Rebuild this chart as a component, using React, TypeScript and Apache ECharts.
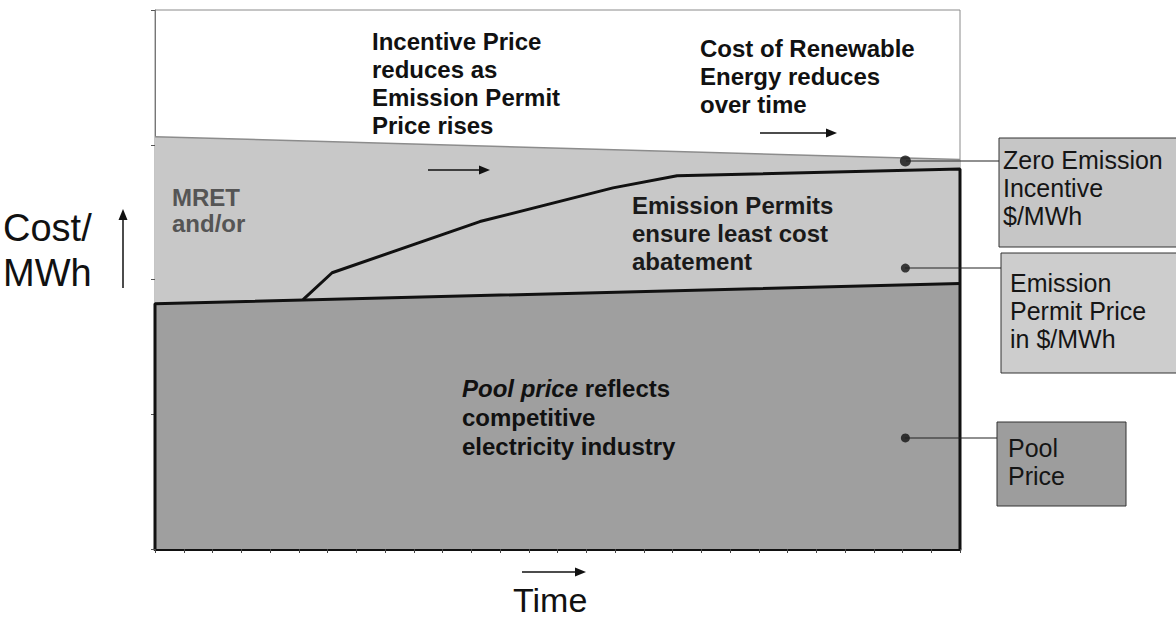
import React, { useEffect, useRef } from "react";
import * as echarts from "echarts";

// Time axis runs 0..28 tick steps, cost axis 0..4 tick steps
const TIME_BOUNDS = [0, 28];
const incentiveTop = [3.06, 2.89]; // top of zero-emission incentive band (left, right)
const poolPrice = [1.82, 1.97]; // pool price (left, right)
const permitTime = [5.15, 6.16, 11.3, 15.93, 18.16, 28];
const permitPrice = [1.85, 2.05, 2.43, 2.68, 2.77, 2.82];
const markerTime = [26.1, 26.1, 26.1];
const markerValue = [2.88, 2.085, 0.824];
const markerSize = [11, 9, 9];

const FONT = "Liberation Sans, Arial, Helvetica, sans-serif";

export default function App() {
  const ref = useRef<HTMLDivElement>(null);
  useEffect(() => {
    document.body.style.margin = "0";
    const chart = echarts.init(ref.current!, null, { renderer: "svg" });

    const lightData = TIME_BOUNDS.map((t, i) => [t, incentiveTop[i]]);
    const poolData = [[TIME_BOUNDS[0], 0]].concat(
      TIME_BOUNDS.map((t, i) => [t, poolPrice[i]])
    );
    const permitData = permitTime
      .map((t, i) => [t, permitPrice[i]])
      .concat([[TIME_BOUNDS[1], 0]]);
    const markerData = markerTime.map((t, i) => ({
      value: [t, markerValue[i]],
      symbolSize: markerSize[i],
    }));

    const txt = (
      x: number,
      y: number,
      text: string,
      fontSize: number,
      lineHeight: number,
      extra: any = {}
    ) => ({
      type: "text",
      x,
      y,
      z: 100,
      silent: true,
      style: {
        text,
        fontSize,
        fontFamily: FONT,
        lineHeight,
        fill: "#111",
        align: "left",
        verticalAlign: "top",
        ...extra,
      },
    });

    const arrowH = (x1: number, x2: number, y: number) => [
      {
        type: "line",
        z: 100,
        silent: true,
        shape: { x1, y1: y, x2: x2 - 9, y2: y },
        style: { stroke: "#111", lineWidth: 1.5 },
      },
      {
        type: "polygon",
        z: 100,
        silent: true,
        shape: { points: [[x2 - 11, y - 4.5], [x2, y], [x2 - 11, y + 4.5]] },
        style: { fill: "#111" },
      },
    ];

    const box = (x: number, y: number, w: number, h: number, fill: string) => ({
      type: "rect",
      z: 90,
      silent: true,
      shape: { x, y, width: w, height: h },
      style: { fill, stroke: "#333", lineWidth: 1 },
    });

    const conn = (x1: number, x2: number, y: number) => ({
      type: "line",
      z: 95,
      silent: true,
      shape: { x1, y1: y, x2, y2: y },
      style: { stroke: "#222", lineWidth: 1.2 },
    });

    const bold = { fontWeight: "bold" };

    chart.setOption({
      animation: false,
      grid: {
        left: 155,
        top: 10,
        right: 216,
        bottom: 71,
        show: true,
        borderColor: "#8a8a8a",
        borderWidth: 1,
        backgroundColor: "#ffffff",
      },
      xAxis: {
        type: "value",
        min: TIME_BOUNDS[0],
        max: TIME_BOUNDS[1],
        interval: 1,
        axisLine: { show: true, lineStyle: { color: "#111", width: 3 } },
        axisTick: { show: true, length: 4, lineStyle: { color: "#444", width: 1 } },
        axisLabel: { show: false },
        splitLine: { show: false },
      },
      yAxis: {
        type: "value",
        min: 0,
        max: 4,
        interval: 1,
        axisLine: { show: true, lineStyle: { color: "#777", width: 1 } },
        axisTick: { show: true, length: 4, lineStyle: { color: "#555", width: 1 } },
        axisLabel: { show: false },
        splitLine: { show: false },
      },
      series: [
        {
          name: "Zero Emission Incentive",
          type: "line",
          data: lightData,
          symbol: "none",
          silent: true,
          z: 2,
          lineStyle: { color: "#8c8c8c", width: 1.5 },
          areaStyle: { color: "#c8c8c8", opacity: 1 },
        },
        {
          name: "Pool Price",
          type: "line",
          data: poolData,
          symbol: "none",
          silent: true,
          z: 3,
          lineStyle: { color: "#111", width: 3 },
          areaStyle: { color: "#9f9f9f", opacity: 1 },
        },
        {
          name: "Emission Permit Price",
          type: "line",
          data: permitData,
          symbol: "none",
          silent: true,
          z: 4,
          lineStyle: { color: "#111", width: 3 },
        },
        {
          name: "markers",
          type: "scatter",
          data: markerData,
          symbol: "circle",
          silent: true,
          z: 5,
          itemStyle: { color: "#111" },
        },
      ],
      graphic: [
        // plot annotations
        txt(372, 27, "Incentive Price\nreduces as\nEmission Permit\nPrice rises", 24, 28, bold),
        txt(700, 34, "Cost of Renewable\nEnergy reduces\nover time", 24, 28, bold),
        txt(172, 184, "MRET\nand/or", 24, 26, { ...bold, fill: "#555" }),
        txt(632, 191, "Emission Permits\nensure least cost\nabatement", 24, 28, { ...bold, fill: "#1a1a1a" }),
        {
          type: "text",
          x: 462,
          y: 374,
          z: 100,
          silent: true,
          style: {
            text: "{it|Pool price}{b| reflects}\n{b|competitive}\n{b|electricity industry}",
            fontFamily: FONT,
            fontSize: 24,
            fontWeight: "bold",
            fill: "#111",
            lineHeight: 29,
            verticalAlign: "top",
            rich: {
              it: { fontFamily: FONT, fontSize: 24, fontWeight: "bold", fontStyle: "italic", fill: "#111", lineHeight: 29 },
              b: { fontFamily: FONT, fontSize: 24, fontWeight: "bold", fill: "#111", lineHeight: 29 },
            },
          },
        },
        ...arrowH(428, 490, 170),
        ...arrowH(760, 837, 133),
        ...arrowH(522, 586, 572),
        // axis titles
        txt(3, 205, "Cost/\nMWh", 38, 45),
        txt(513, 600, "Time", 34, 34, { verticalAlign: "middle" }),
        {
          type: "line",
          z: 100,
          silent: true,
          shape: { x1: 123, y1: 288, x2: 123, y2: 218 },
          style: { stroke: "#111", lineWidth: 1.5 },
        },
        {
          type: "polygon",
          z: 100,
          silent: true,
          shape: { points: [[118.5, 220], [123, 209], [127.5, 220]] },
          style: { fill: "#111" },
        },
        // connectors
        conn(906, 999, 161),
        conn(905, 1001, 268),
        conn(905, 997, 438),
        // legend boxes
        box(999, 138, 180, 109, "#c6c6c6"),
        txt(1003, 146, "Zero Emission\nIncentive\n$/MWh", 25, 28, { fill: "#151515" }),
        box(1001, 253, 180, 120, "#cdcdcd"),
        txt(1010, 269, "Emission\nPermit Price\nin $/MWh", 25, 28, { fill: "#151515" }),
        box(997, 422, 129, 84, "#9d9d9d"),
        txt(1008, 434, "Pool\nPrice", 25, 28, { fill: "#151515" }),
      ],
    });
    return () => chart.dispose();
  }, []);
  return <div ref={ref} style={{ width: 1176, height: 620 }} />;
}
